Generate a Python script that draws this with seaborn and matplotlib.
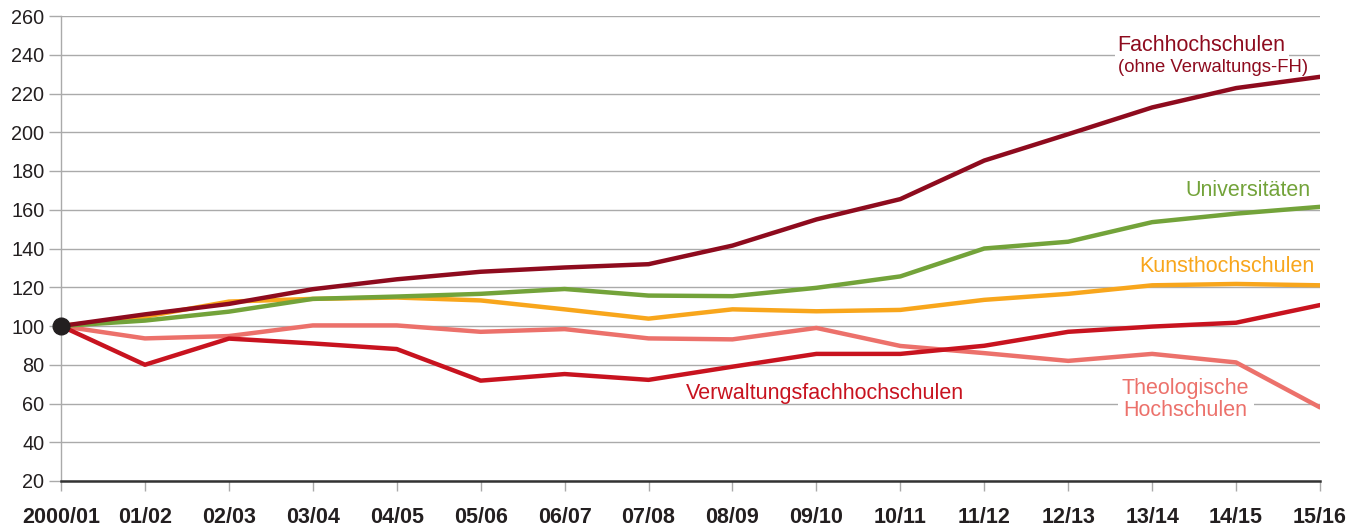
import pandas as pd
import seaborn as sns
from matplotlib import pyplot as plt

years = ["2000/01", "01/02", "02/03", "03/04", "04/05", "05/06", "06/07", "07/08",
         "08/09", "09/10", "10/11", "11/12", "12/13", "13/14", "14/15", "15/16"]

theologische = [100, 93.6, 94.8, 100.3, 100.3, 97, 98.4, 93.6, 93.1, 99, 89.7, 86, 82, 85.6, 81.2, 58]
verwaltung = [100, 80, 93.5, 91, 88.1, 71.8, 75.2, 72.2, 79, 85.6, 85.6, 89.8, 97, 99.7, 101.7, 110.8]
kunst = [100, 104.8, 112.6, 114, 114.7, 113.2, 108.6, 103.8, 108.6, 107.6, 108.3, 113.5, 116.6, 121, 121.7, 121]
uni = [100, 102.8, 107.4, 114, 115.2, 116.6, 119.1, 115.7, 115.4, 119.7, 125.6, 140, 143.5, 153.6, 158, 161.5]
fach = [100, 106, 111.4, 119, 124.1, 128, 130.2, 131.9, 141.5, 155, 165.5, 185.4, 199, 212.8, 222.8, 228.6]

names = ["Theologische", "Verwaltung", "Kunst", "Uni", "Fach"]
colors = {"Theologische": "#EC716B", "Verwaltung": "#C8131F", "Kunst": "#F8A61C",
          "Uni": "#73A33A", "Fach": "#8E0B1E"}


def main():
    rows = []
    for name, vals in zip(names, [theologische, verwaltung, kunst, uni, fach]):
        for i, v in enumerate(vals):
            rows.append({"x": i, "Jahr": years[i], "Wert": v, "Gruppe": name})
    df = pd.DataFrame(rows)

    sns.set_style("white")
    plt.rcParams["font.family"] = ["Liberation Sans", "DejaVu Sans"]

    fig = plt.figure(figsize=(13.62, 5.28), dpi=100)
    ax = fig.add_axes([61 / 1362, 1 - 481 / 528, (1320 - 61) / 1362, (481 - 16) / 528])

    sns.lineplot(df, x="x", y="Wert", hue="Gruppe", hue_order=names, palette=colors,
                 linewidth=3.2, legend=False, ax=ax, zorder=3,
                 solid_capstyle="round")
    ax.plot(0, fach[0], "o", color="#231F20", markersize=12, zorder=5, clip_on=False)

    ax.set_xlim(0, len(years) - 1)
    ax.set_ylim(20, 260)
    ax.set_yticks(range(20, 261, 20))
    ax.set_xticks(range(len(years)))
    ax.set_xticklabels(years, fontsize=15.5, fontweight="bold", color="#231F20")
    ax.tick_params(axis="y", labelsize=14.3, labelcolor="#231F20", length=9,
                   width=1, color="#AAAAAA", pad=3, left=True)
    ax.tick_params(axis="x", length=7, width=1, color="#AAAAAA", pad=12, bottom=True)
    ax.set_xlabel("")
    ax.set_ylabel("")
    ax.yaxis.grid(True, color="#AAAAAA", linewidth=1)
    ax.set_axisbelow(True)
    for s in ["top", "right"]:
        ax.spines[s].set_visible(False)
    ax.spines["left"].set_color("#AAAAAA")
    ax.spines["left"].set_linewidth(1)
    ax.spines["bottom"].set_color("#333333")
    ax.spines["bottom"].set_linewidth(1.8)

    ax.text(12.59, 244.8, "Fachhochschulen", color=colors["Fach"], fontsize=15.5, ha="left",
            va="center", zorder=2, bbox=dict(facecolor="white", edgecolor="none", pad=2))
    ax.text(12.59, 233.6, "(ohne Verwaltungs-FH)", color=colors["Fach"], fontsize=13.3,
            ha="left", va="center", zorder=2)
    ax.text(14.89, 169.7, "Universitäten", color=colors["Uni"], fontsize=15.5, ha="right", va="center")
    ax.text(14.93, 130.5, "Kunsthochschulen", color=colors["Kunst"], fontsize=15.5, ha="right", va="center")
    ax.text(7.45, 65.2, "Verwaltungsfachhochschulen", color=colors["Verwaltung"], fontsize=15.5,
            ha="left", va="center")
    ax.text(13.4, 62.0, "Theologische\nHochschulen", color=colors["Theologische"], fontsize=15.5,
            ha="center", va="center", linespacing=1.02, zorder=2,
            bbox=dict(facecolor="white", edgecolor="none", pad=3))

    plt.savefig("out.png", dpi=100)


if __name__ == "__main__":
    main()
